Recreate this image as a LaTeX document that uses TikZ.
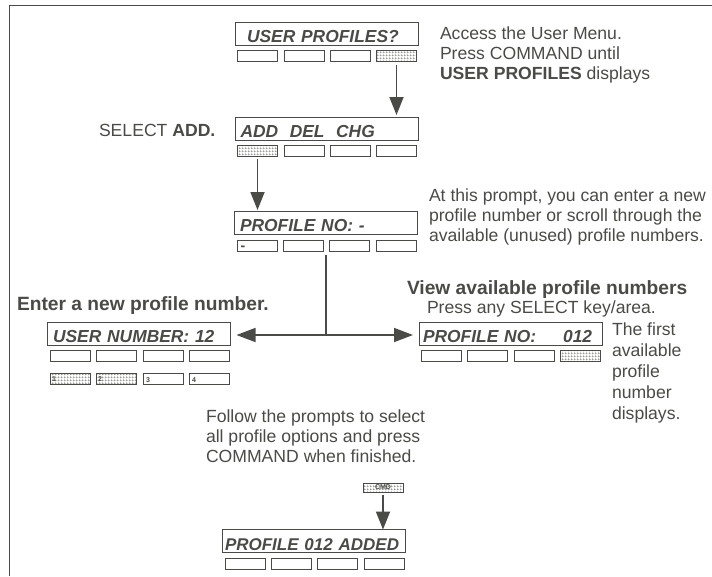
\documentclass[tikz,border=0pt]{standalone}
\usepackage{fontspec}
\setmainfont{Liberation Sans}
\usetikzlibrary{arrows.meta,patterns}
\definecolor{ink}{HTML}{4A4A46}
\pgfdeclarepatternformonly{dither}{\pgfqpoint{0pt}{0pt}}{\pgfqpoint{2.6pt}{2.6pt}}{\pgfqpoint{2.6pt}{2.6pt}}{%
  \pgfsetlinewidth{1pt}
  \pgfpathmoveto{\pgfqpoint{0pt}{0pt}}\pgfpathlineto{\pgfqpoint{2.6pt}{0pt}}
  \pgfpathmoveto{\pgfqpoint{0pt}{0pt}}\pgfpathlineto{\pgfqpoint{0pt}{2.6pt}}
  \pgfusepath{stroke}}
\tikzset{
  x=1pt,y=-1pt,
  every node/.style={text=ink,inner sep=0pt,outer sep=0pt},
  disp/.style={draw=ink,line width=1pt,anchor=north west,minimum width=183pt,minimum height=23pt,text width=172pt,align=left,
     font=\fontsize{17.4}{18}\selectfont\bfseries\itshape,text height=18.5pt,text depth=1.5pt},
  btn/.style={draw=ink,line width=0.8pt,anchor=north west,minimum width=40pt,minimum height=11pt,fill=white},
  btnon/.style={btn,pattern=dither,pattern color=ink!85},
  txt/.style={anchor=north west,align=left,font=\fontsize{17.6}{20}\selectfont},
  headtxt/.style={anchor=north west,align=left,font=\fontsize{19.2}{21}\selectfont\bfseries},
  arr/.style={draw=ink,line width=1.8pt,-{Triangle[length=18pt,width=14pt]}},
  arrs/.style={draw=ink,line width=1.5pt,-{Triangle[length=19pt,width=14pt]}},
  tiny/.style={font=\fontsize{7}{7}\selectfont\bfseries},
}
\begin{document}
\begin{tikzpicture}
\useasboundingbox (0,0) rectangle (712,576);
% frame
\coordinate (fa) at (9.5,576); \coordinate (fb) at (9.5,5.5); \coordinate (fc) at (712,5.5);
\draw[draw=ink,line width=1.5pt] (fa) -- (fb) -- (fc);

% display 1
\node[disp] (d1) at (235,22) {\hspace*{6.5pt}USER PROFILES?};
\node[btn] (d1a) at (237.5,50) {};
\node[btn] (d1b) at (284,50) {};
\node[btn] (d1c) at (330.5,50) {};
\node[btnon] (d1d) at (376.5,50) {};
% display 2
\node[disp] (d2) at (235,117) {ADD\ \ DEL\ \ CHG};
\node[btnon] (d2a) at (237.5,145.5) {};
\node[btn] (d2b) at (284,145.5) {};
\node[btn] (d2c) at (330.5,145.5) {};
\node[btn] (d2d) at (376.5,145.5) {};
% display 3
\node[disp] (d3) at (234.5,211) {PROFILE NO: -};
\node[btn] (d3a) at (237,240) {};
\node[btn] (d3b) at (283,240) {};
\node[btn] (d3c) at (329.5,240) {};
\node[btn] (d3d) at (376,240) {};
\node[anchor=base,font=\fontsize{14}{14}\selectfont\bfseries] (d3m) at (243,250.5) {-};
% display 4
\node[disp] (d4) at (47.5,322) {USER NUMBER: 12};
\node[btn] (d4a) at (50,350) {};
\node[btn] (d4b) at (96,350) {};
\node[btn] (d4c) at (143,350) {};
\node[btn] (d4d) at (189,350) {};
\node[btnon] (k1) at (50,373) {};
\node[btnon] (k2) at (96,373) {};
\node[btn] (k3) at (143,373) {};
\node[btn] (k4) at (189,373) {};
\node[tiny,anchor=center] (k1t) at (54,379.5) {1};
\node[tiny,anchor=center] (k2t) at (100,379.5) {2};
\node[tiny,anchor=center] (k3t) at (148,380) {3};
\node[tiny,anchor=center] (k4t) at (194,380) {4};
% display 5
\node[disp,text width=175pt] (d5) at (419,322) {PROFILE NO:\hspace{27pt}012};
\node[btn] (d5a) at (421,350) {};
\node[btn] (d5b) at (467.5,350) {};
\node[btn] (d5c) at (514,350) {};
\node[btnon] (d5d) at (560,350) {};
% command key
\node[btnon,minimum height=9pt] (cmd) at (363,483) {};
\node[tiny,anchor=center] (cmdt) at (383,487.5) {CMD};
% display 6
\node[disp,text width=177pt,text height=19.5pt] (d6) at (222,529.5) {\mbox{\fontsize{17}{18}\selectfont PROFILE 012 ADDED}};
\node[btn] (d6a) at (225,558) {};
\node[btn] (d6b) at (271,558) {};
\node[btn] (d6c) at (317.5,558) {};
\node[btn] (d6d) at (364,558) {};

% texts
\node[txt] (t1) at (440,26.3) {Access the User Menu.\\Press COMMAND until\\\textbf{USER PROFILES} displays};
\node[txt] (t2) at (99,124) {SELECT \textbf{ADD.}};
\node[txt] (t3) at (429,189) {At this prompt, you can enter a new\\profile number or scroll through the\\available (unused) profile numbers.};
\node[headtxt] (t4) at (17,297) {Enter a new profile number.};
\node[headtxt] (t5) at (407,281) {View available profile numbers};
\node[txt] (t6) at (427,300.3) {Press any SELECT key/area.};
\node[txt,font=\fontsize{17.6}{21}\selectfont] (t7) at (612,323) {The first\\available\\profile\\number\\displays.};
\node[txt] (t8) at (206,410) {Follow the prompts to select\\all profile options and press\\COMMAND when finished.};

% connectors
\draw[arr,shorten <=4pt,shorten >=2pt] (d1d.south) -- (d1d.south |- d2.north);
\draw[arr,shorten <=2pt,shorten >=1pt] (d2a.south) -- (d2a.south |- d3.north);
\draw[arr,shorten <=3pt,shorten >=0pt] (cmd.south) -- (cmd.south |- d6.north);
\coordinate (jt) at (326,255);
\coordinate (jm) at (326,335);
\draw[draw=ink,line width=1.2pt] (jt) -- (jm);
\draw[arrs,shorten >=6pt] (jm) -- (jm -| d4.east);
\draw[arrs,shorten >=6pt] (jm) -- (jm -| d5.west);
\end{tikzpicture}
\end{document}
